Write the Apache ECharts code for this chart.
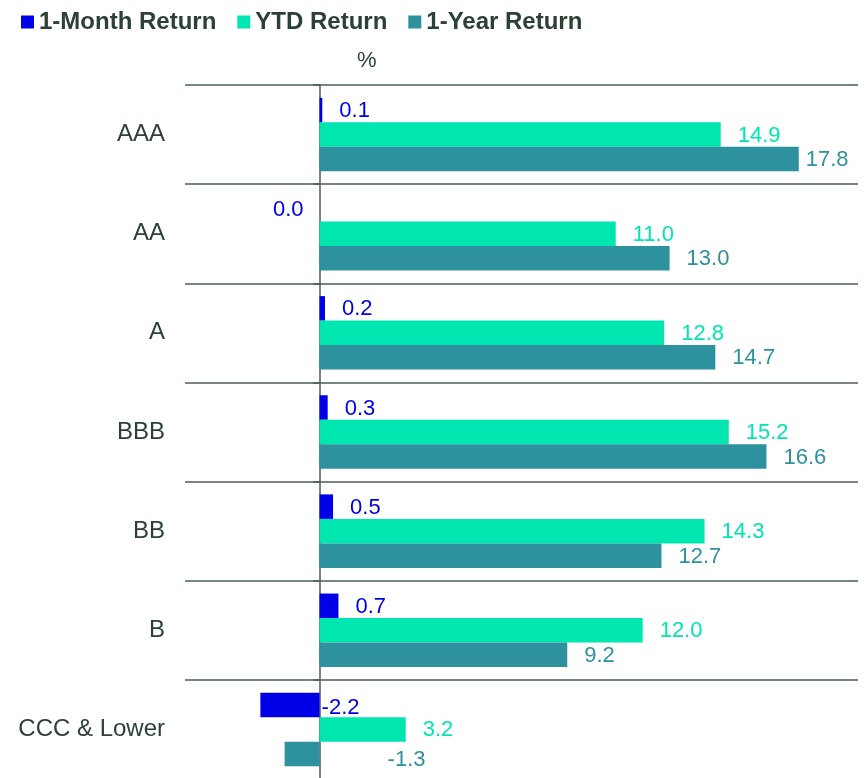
<!DOCTYPE html>
<html>
<head>
<meta charset="utf-8">
<script src="https://cdn.jsdelivr.net/npm/echarts@6/dist/echarts.min.js"></script>
<style>
  html, body { margin: 0; padding: 0; background: #ffffff; }
  #chart { width: 866px; height: 778px; }
</style>
</head>
<body>
<div id="chart"></div>
<script>
// Credit-rating buckets, top to bottom
const categories = ['AAA', 'AA', 'A', 'BBB', 'BB', 'B', 'CCC & Lower'];

// Returns in percent
const oneMonthReturn = [0.1, 0.0, 0.2, 0.3, 0.5, 0.7, -2.2];
const ytdReturn = [14.9, 11.0, 12.8, 15.2, 14.3, 12.0, 3.2];
const oneYearReturn = [17.8, 13.0, 14.7, 16.6, 12.7, 9.2, -1.3];

const seriesNames = ['1-Month Return', 'YTD Return', '1-Year Return'];
const seriesColors = ['#0000e6', '#00e6b0', '#2e919e'];

const FONT = 'Liberation Sans, Arial, sans-serif';
const INK = '#2b4136';
const RULE = '#4c5c54';

// A few value labels sit at custom spots so they stay clear of the axis and the edge
const labelTweaks = [
  { 1: { position: 'left', distance: 16 }, 6: { distance: 2, offset: [0, 3] } },
  {},
  { 0: { distance: 7 }, 6: { distance: 68, offset: [0, 6] } }
];

function buildData(values, tweaks) {
  return values.map((v, i) => {
    const t = tweaks[i];
    return t ? { value: v, label: Object.assign({}, t) } : v;
  });
}

const chart = echarts.init(document.getElementById('chart'), null, { renderer: 'canvas' });

const seriesValues = [oneMonthReturn, ytdReturn, oneYearReturn];

chart.setOption({
  animation: false,
  backgroundColor: '#ffffff',
  legend: {
    left: 16,
    top: 5,
    icon: 'rect',
    itemWidth: 13,
    itemHeight: 13,
    itemGap: 21,
    textStyle: { fontFamily: FONT, fontSize: 24, fontWeight: 'bold', color: INK },
    data: seriesNames
  },
  graphic: [{
    type: 'text',
    left: 357,
    top: 50,
    style: { text: '%', font: '22px ' + FONT, fill: INK }
  }],
  grid: { left: 185, right: 8, top: 85, height: 694, containLabel: false, outerBoundsMode: 'none' },
  xAxis: {
    type: 'value',
    min: -5,
    max: 20,
    axisLine: { show: false },
    axisTick: { show: false },
    axisLabel: { show: false },
    splitLine: { show: false }
  },
  yAxis: {
    type: 'category',
    inverse: true,
    data: categories,
    axisLine: { show: true, onZero: true, lineStyle: { color: RULE, width: 1.5 } },
    axisTick: { show: true, length: 6, lineStyle: { color: RULE, width: 1.5 } },
    axisLabel: { margin: 20, fontFamily: FONT, fontSize: 24, color: INK },
    splitLine: { show: true, lineStyle: { color: RULE, width: 1.5 } }
  },
  series: seriesNames.map((name, k) => ({
    name: name,
    type: 'bar',
    barWidth: 24.5,
    barGap: '0%',
    itemStyle: { color: seriesColors[k] },
    label: {
      show: true,
      position: 'right',
      distance: 17,
      offset: [0, 1],
      fontFamily: FONT,
      fontSize: 22,
      color: seriesColors[k],
      formatter: p => Number(p.value).toFixed(1)
    },
    data: buildData(seriesValues[k], labelTweaks[k])
  }))
});
</script>
</body>
</html>
